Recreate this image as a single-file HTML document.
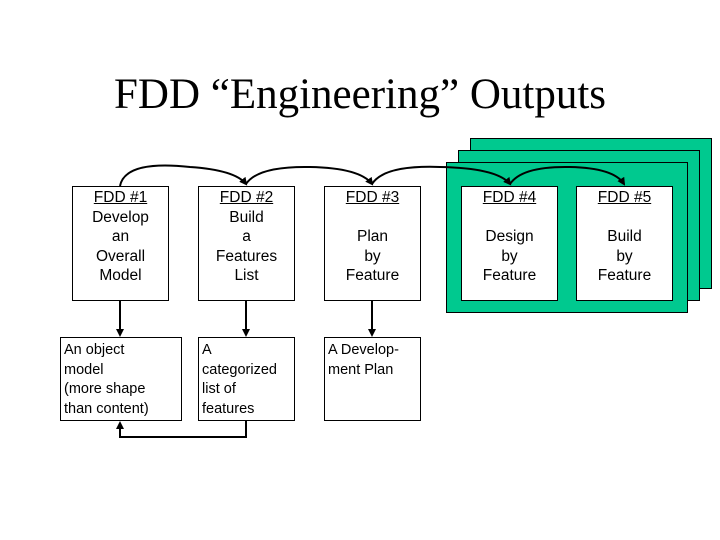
<!DOCTYPE html>
<html><head><style>
body{margin:0;background:#fff;width:720px;height:540px;position:relative;overflow:hidden;font-family:"Liberation Sans",Arial,sans-serif;}
.t{position:absolute;left:0;width:720px;top:68px;text-align:center;font-family:"Liberation Serif",serif;font-size:43px;line-height:54px;}
.g{position:absolute;background:#00c98f;border:1px solid #000;}
.b{position:absolute;background:#fff;border:1px solid #000;box-sizing:border-box;font-size:15.5px;line-height:19.5px;color:#000;}
.c{text-align:center;padding-top:1px;}
.l{text-align:left;padding:3px 0 0 3px;font-size:14.5px;}
u{text-decoration:underline;}
svg{position:absolute;left:0;top:0;}
</style></head><body>
<div class="t">FDD “Engineering” Outputs</div>
<div class="g" style="left:470px;top:138px;width:240px;height:149px"></div>
<div class="g" style="left:458px;top:150px;width:240px;height:149px"></div>
<div class="g" style="left:446px;top:162px;width:240px;height:149px"></div>
<div class="b c" style="left:72px;top:186px;width:97px;height:115px"><u>FDD #1</u><br>Develop<br>an<br>Overall<br>Model</div>
<div class="b c" style="left:198px;top:186px;width:97px;height:115px"><u>FDD #2</u><br>Build<br>a<br>Features<br>List</div>
<div class="b c" style="left:324px;top:186px;width:97px;height:115px"><u>FDD #3</u><br><br>Plan<br>by<br>Feature</div>
<div class="b c" style="left:461px;top:186px;width:97px;height:115px"><u>FDD #4</u><br><br>Design<br>by<br>Feature</div>
<div class="b c" style="left:576px;top:186px;width:97px;height:115px"><u>FDD #5</u><br><br>Build<br>by<br>Feature</div>
<div class="b l" style="left:60px;top:337px;width:122px;height:84px">An object<br>model<br>(more shape<br>than content)</div>
<div class="b l" style="left:198px;top:337px;width:97px;height:84px">A<br>categorized<br>list of<br>features</div>
<div class="b l" style="left:324px;top:337px;width:97px;height:84px">A Develop-<br>ment Plan</div>
<svg width="720" height="540">
<defs><marker id="a" markerWidth="8" markerHeight="8" refX="6" refY="4" orient="auto" markerUnits="userSpaceOnUse"><path d="M0,0 L8,4 L0,8 z" fill="#000"/></marker></defs>
<g fill="none" stroke="#000" stroke-width="2">
<path d="M120,186 Q125,160 190,167 Q235,170 246,184" marker-end="url(#a)"/>
<path d="M246,184 Q258,166 310,167 Q360,168 372,184" marker-end="url(#a)"/>
<path d="M372,184 Q384,165 440,167 Q497,168 510,184" marker-end="url(#a)"/>
<path d="M510,184 Q522,166 570,167 Q614,168 624,184" marker-end="url(#a)"/>
<path d="M120,301 L120,335" marker-end="url(#a)"/>
<path d="M246,301 L246,335" marker-end="url(#a)"/>
<path d="M372,301 L372,335" marker-end="url(#a)"/>
<path d="M246,421 L246,437 L120,437 L120,423" marker-end="url(#a)"/>
</g>
</svg>
</body></html>
